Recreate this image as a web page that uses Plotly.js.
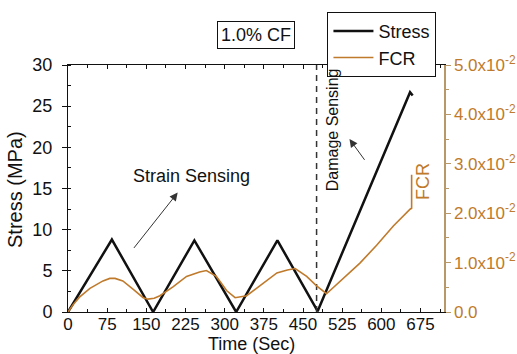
<!DOCTYPE html>
<html>
<head>
<meta charset="utf-8">
<script src="https://cdn.plot.ly/plotly-3.0.1.min.js"></script>
<style>html,body{margin:0;padding:0;background:#fff;}#chart{width:517px;height:354px;}</style>
</head>
<body>
<div id="chart"></div>
<script>
// ---- data ----
const stressTime = [0, 84, 163, 242, 322, 401, 478, 655, 660];
const stressValues = [0, 8.8, 0, 8.7, 0, 8.7, 0.1, 26.7, 26.3];

const fcrTime = [0, 10, 22, 42, 67, 80, 90, 105, 125, 144, 153, 165, 176, 201, 227, 252, 265, 284, 304, 320, 342, 364, 380, 400, 420, 435, 457, 476, 495, 521, 559, 591, 623, 655, 658, 658];
const fcrValues = [0, 0.0015, 0.0030, 0.0048, 0.0063, 0.0068, 0.0068, 0.0063, 0.0046, 0.0029, 0.0026, 0.0028, 0.0033, 0.0051, 0.0072, 0.0081, 0.0084, 0.0072, 0.0043, 0.0029, 0.0033, 0.0050, 0.0063, 0.0079, 0.0085, 0.0088, 0.0072, 0.0053, 0.0037, 0.0063, 0.0099, 0.0135, 0.0174, 0.0208, 0.0210, 0.0278];

const damageTime = 476;
const xTicks = [0, 75, 150, 225, 300, 375, 450, 525, 600, 675];
const yTicks = [0, 5, 10, 15, 20, 25, 30];
const fcrTickVals = [0, 0.01, 0.02, 0.03, 0.04, 0.05];
const fcrTickText = ['0.0', '1.0x10<sup>-2</sup>', '2.0x10<sup>-2</sup>', '3.0x10<sup>-2</sup>', '4.0x10<sup>-2</sup>', '5.0x10<sup>-2</sup>'];

// ---- styles ----
const FONT = 'Arial, "Liberation Sans", sans-serif';
const ORANGE = '#c07a2c';
const TAN = '#b89868';

const traces = [
  {x: stressTime, y: stressValues, name: 'Stress', type: 'scatter', mode: 'lines',
   line: {color: '#111', width: 2.5}},
  {x: fcrTime, y: fcrValues, name: 'FCR', type: 'scatter', mode: 'lines', yaxis: 'y2',
   line: {color: ORANGE, width: 1.6}},
  {x: [damageTime, damageTime], y: [0, 30], type: 'scatter', mode: 'lines', showlegend: false,
   hoverinfo: 'skip', line: {color: '#333', width: 1.5, dash: '6px,5px'}}
];

const layout = {
  width: 517, height: 354,
  margin: {l: 68, r: 73, t: 57, b: 42},
  paper_bgcolor: '#fff', plot_bgcolor: '#fff',
  font: {family: FONT, size: 18, color: '#111'},
  showlegend: true,
  legend: {x: 0.69, y: 1.215, xanchor: 'left', yanchor: 'top', bgcolor: '#fff',
           bordercolor: '#111', borderwidth: 1, font: {size: 18, color: '#111'},
           tracegroupgap: 0, itemwidth: 40},
  xaxis: {range: [0, 720], tickvals: xTicks, showgrid: false, zeroline: false,
          showline: true, linecolor: '#111', linewidth: 1, mirror: 'ticks',
          ticks: 'inside', ticklen: 4, tickcolor: '#111', ticklabelstandoff: -3,
          minor: {dtick: 37.5, ticks: 'inside', ticklen: 3, tickcolor: '#111'},
          tickfont: {size: 17, color: '#111'}},
  yaxis: {range: [0, 30], tickvals: yTicks, showgrid: false, zeroline: false,
          showline: true, linecolor: '#111', linewidth: 1,
          ticks: 'outside', ticklen: 5, tickcolor: '#111', ticklabelstandoff: 6,
          minor: {dtick: 2.5, ticks: 'inside', ticklen: 3, tickcolor: '#111'},
          tickfont: {size: 18, color: '#111'}},
  yaxis2: {range: [0, 0.05], overlaying: 'y', side: 'right', tickvals: fcrTickVals, ticktext: fcrTickText,
           showgrid: false, zeroline: false, showline: true, linecolor: TAN, linewidth: 1.5,
           ticks: 'outside', ticklen: 5, tickcolor: TAN,
           minor: {dtick: 0.005, ticks: 'outside', ticklen: 3, tickcolor: TAN},
           tickfont: {size: 17, color: ORANGE}},
  annotations: [
    {text: 'Time (Sec)', xref: 'paper', yref: 'paper', x: 0.487, y: -0.128, xanchor: 'center', yanchor: 'middle',
     showarrow: false, font: {size: 18, color: '#111'}},
    {text: 'Stress (MPa)', xref: 'paper', yref: 'paper', x: -0.141, y: 0.498, xanchor: 'center', yanchor: 'middle',
     textangle: -90, showarrow: false, font: {size: 20, color: '#111'}},
    {text: 'FCR', xref: 'paper', yref: 'paper', x: 0.944, y: 0.53, xanchor: 'center', yanchor: 'middle',
     textangle: -90, showarrow: false, font: {size: 18, color: ORANGE}},
    {text: '1.0% CF', xref: 'paper', yref: 'paper', x: 0.5, y: 1.12, xanchor: 'center', yanchor: 'middle',
     showarrow: false, bordercolor: '#111', borderwidth: 1, borderpad: 3, bgcolor: '#fff',
     font: {size: 18, color: '#111'}},
    {text: 'Strain Sensing', xref: 'x', yref: 'y', x: 237, y: 16.5, xanchor: 'center', yanchor: 'middle',
     showarrow: false, font: {size: 18, color: '#111'}},
    {text: 'Damage Sensing', xref: 'x', yref: 'y', x: 506, y: 22.1, xanchor: 'center', yanchor: 'middle',
     textangle: -90, showarrow: false, font: {size: 16, color: '#111'}},
    {text: '', xref: 'x', yref: 'y', axref: 'x', ayref: 'y', x: 210, y: 14.5, ax: 124, ay: 7.6,
     showarrow: true, arrowhead: 2, arrowsize: 1.6, arrowwidth: 1, arrowcolor: '#333'},
    {text: '', xref: 'x', yref: 'y', axref: 'x', ayref: 'y', x: 539, y: 21.0, ax: 570, ay: 18.3,
     showarrow: true, arrowhead: 2, arrowsize: 1.6, arrowwidth: 1, arrowcolor: '#333'}
  ]
};

Plotly.newPlot('chart', traces, layout, {displayModeBar: false, staticPlot: true});
</script>
</body>
</html>
